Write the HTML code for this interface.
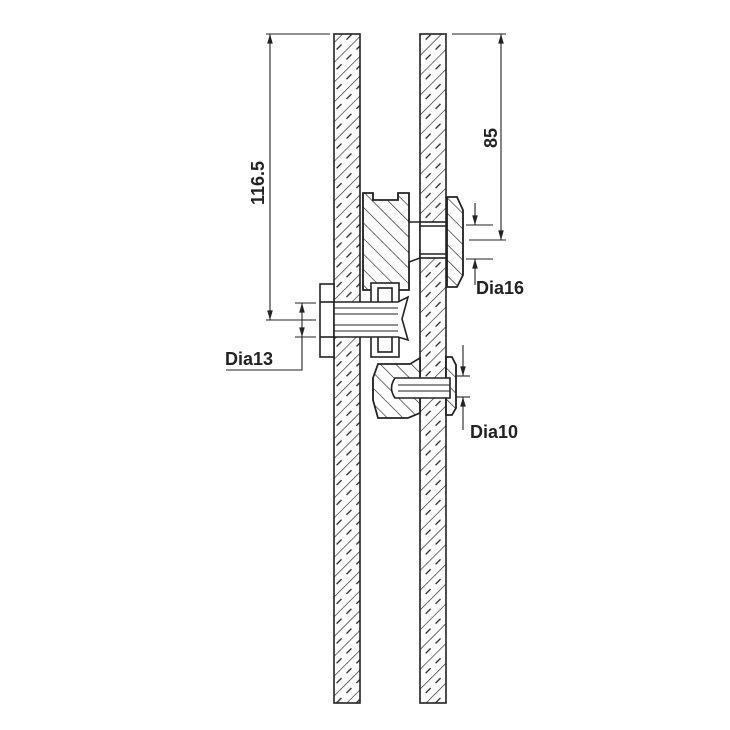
<!DOCTYPE html>
<html><head><meta charset="utf-8"><style>
html,body{margin:0;padding:0;background:#fff;}
svg{display:block}
text{font-family:"Liberation Sans",Arial,sans-serif;font-weight:bold;fill:#222}
</style></head><body>
<svg width="730" height="730" viewBox="0 0 730 730" xmlns="http://www.w3.org/2000/svg">
<defs>
<pattern id="ph" width="14" height="14" patternUnits="userSpaceOnUse" patternTransform="rotate(45)">
<line x1="0" y1="0" x2="0" y2="14" stroke="#222" stroke-width="1.3"/>
<line x1="7" y1="0" x2="7" y2="14" stroke="#222" stroke-width="1.3" stroke-dasharray="7 7"/>
</pattern>
<pattern id="ch" width="11" height="11" patternUnits="userSpaceOnUse" patternTransform="rotate(-45)">
<line x1="0" y1="0" x2="0" y2="11" stroke="#222" stroke-width="1.3"/>
</pattern>
<marker id="ar" viewBox="0 0 12 10" refX="12" refY="5" markerWidth="12" markerHeight="8" orient="auto-start-reverse" markerUnits="userSpaceOnUse">
<path d="M0,1.5 L12,5 L0,8.5 z" fill="#222"/></marker>
</defs>
<g stroke="#222" stroke-width="1.6" fill="none">
<rect x="334" y="34" width="26" height="669" fill="url(#ph)"/>
<rect x="420" y="34" width="26" height="669" fill="url(#ph)"/>
<path d="M363,193 H373 V200 H398 V193 H409 L409,222 L420,222 V258 L409,262 V290 H363 Z" fill="#fff"/>
<path d="M363,193 H373 V200 H398 V193 H409 V290 H363 Z" fill="url(#ch)"/>
<rect x="420" y="222" width="26" height="36" fill="#fff"/>
<line x1="420" y1="226" x2="446" y2="226"/>
<line x1="420" y1="254" x2="446" y2="254"/>
<path d="M447,197 H457 L463,210 V275 L457,287 H447 Z" fill="#fff"/>
<path d="M447,197 H457 L463,210 V275 L457,287 H447 Z" fill="url(#ch)"/>
<rect x="320" y="284" width="14" height="73" fill="#fff"/>
<line x1="320" y1="302" x2="334" y2="302"/>
<line x1="320" y1="337" x2="334" y2="337"/>
<rect x="371" y="283" width="28" height="74" fill="#fff"/>
<rect x="378" y="288" width="14" height="64" fill="#fff"/>
<path d="M334,302 H398 L408,297 L402,319 L408,340 L398,337 H334 Z" fill="#fff"/>
<line x1="334" y1="308" x2="398" y2="308" stroke-width="1"/>
<line x1="334" y1="314" x2="398" y2="314" stroke-width="1"/>
<line x1="334" y1="325" x2="398" y2="325" stroke-width="1"/>
<line x1="334" y1="331" x2="398" y2="331" stroke-width="1"/>
<path d="M378,364 H410 L420,358 V413 L408,418 H378 L373,400 V378 Z" fill="#fff"/>
<path d="M378,364 H410 L420,358 V413 L408,418 H378 L373,400 V378 Z" fill="url(#ch)"/>
<path d="M446,357 H452 L456,365 V408 L452,415 H446 Z" fill="#fff"/>
<path d="M446,357 H452 L456,365 V408 L452,415 H446 Z" fill="url(#ch)"/>
<path d="M450,378 H395 Q388,388 395,398 H450 Z" fill="#fff"/>
<line x1="398" y1="385" x2="450" y2="385" stroke-width="1"/>
<line x1="398" y1="391" x2="450" y2="391" stroke-width="1"/>
</g>
<g stroke="#222" stroke-width="1.1" fill="none">
<line x1="266" y1="34" x2="330" y2="34"/>
<line x1="266" y1="320" x2="316" y2="320"/>
<line x1="270" y1="320" x2="270" y2="34" marker-end="url(#ar)" marker-start="url(#ar)"/>
<line x1="295" y1="303" x2="316" y2="303"/>
<line x1="295" y1="337" x2="316" y2="337"/>
<line x1="302" y1="320" x2="302" y2="303" marker-end="url(#ar)"/>
<line x1="302" y1="320" x2="302" y2="337" marker-end="url(#ar)"/>
<polyline points="302,337 302,370 226,370"/>
<line x1="452" y1="34" x2="506" y2="34"/>
<line x1="469" y1="240" x2="506" y2="240"/>
<line x1="501" y1="240" x2="501" y2="34" marker-end="url(#ar)" marker-start="url(#ar)"/>
<line x1="466" y1="225" x2="493" y2="225"/>
<line x1="466" y1="259" x2="493" y2="259"/>
<line x1="475" y1="203" x2="475" y2="225" marker-end="url(#ar)"/>
<line x1="475" y1="285" x2="475" y2="259" marker-end="url(#ar)"/>
<line x1="456" y1="376" x2="470" y2="376"/>
<line x1="456" y1="397" x2="470" y2="397"/>
<line x1="463" y1="345" x2="463" y2="376" marker-end="url(#ar)"/>
<line x1="463" y1="430" x2="463" y2="397" marker-end="url(#ar)"/>
</g>
<text x="225" y="365" font-size="18">Dia13</text>
<text x="476" y="294" font-size="18">Dia16</text>
<text x="470" y="438" font-size="18">Dia10</text>
<text transform="translate(264,183) rotate(-90)" text-anchor="middle" font-size="18">116.5</text>
<text transform="translate(497,138) rotate(-90)" text-anchor="middle" font-size="18">85</text>
</svg>
</body></html>
